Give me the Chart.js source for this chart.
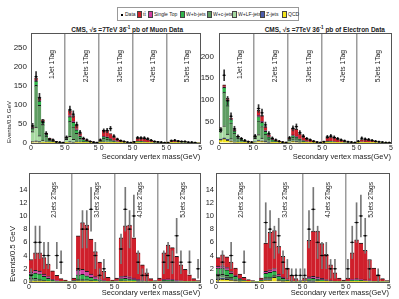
<!DOCTYPE html>
<html>
<head>
<meta charset="utf-8">
<script src="https://cdn.jsdelivr.net/npm/chart.js@4.4.1/dist/chart.umd.min.js"></script>
<style>
  body { margin: 0; width: 399px; height: 299px; background: #fff; position: relative; overflow: hidden;
         font-family: "Liberation Sans", Arial, sans-serif; color: #222; }
  canvas { position: absolute; }
  .titulo { position: absolute; top: 25px; font-size: 6.5px; font-weight: bold; white-space: nowrap; }
  .titulo sup { font-size: 4.5px; }
  #legend { position: absolute; left: 117px; top: 7px; width: 180px; height: 12px; border: 1px solid #999; background: #fff; }
  .item { position: absolute; top: 2px; height: 8px; font-size: 5px; line-height: 8px; white-space: nowrap; }
  .swatch { display: inline-block; width: 5px; height: 7px; vertical-align: middle; margin-right: 1px; border: 0.5px solid #444; box-sizing: border-box; }
</style>
</head>
<body>
<div id="legend"></div>
<div class="titulo" style="right:216px">CMS, √s =7TeV 36<sup>-1</sup> pb of Muon Data</div>
<div class="titulo" style="right:14px">CMS, √s =7TeV 36<sup>-1</sup> pb of Electron Data</div>
<canvas id="tl" width="205" height="143" style="left:0;top:20px"></canvas>
<canvas id="tr" width="200" height="143" style="left:199px;top:20px"></canvas>
<canvas id="bl" width="205" height="139" style="left:0;top:160px"></canvas>
<canvas id="br" width="200" height="139" style="left:199px;top:160px"></canvas>
<script>
// 10 bins of 0.5 GeV in each 0-5 GeV jet/tag region
const binsPerRegion = 10;
const regionWidth = 5;

const topRegions = ['1Jet 1Tag', '2Jets 1Tag', '3Jets 1Tag', '4Jets 1Tag', '5Jets 1Tag'];
const bottomRegions = ['2Jets 2Tags', '3Jets 2Tags', '4Jets 2Tags', '5Jets 2Tags'];

// samples, from the bottom of the stack to the top
const sampleNames = ['QCD', 'Z-jets', 'W+LF-jets', 'W+c-jets', 'W+b-jets', 'Single Top', 't\u0074\u0304'];
const sampleColors = ['#f2e41c', '#4b5cae', '#a6d9a0', '#5e9c62', '#2fb44b', '#d23fa2', '#cf1f2b'];

// tick labels
const topYTicks = [0, 50, 100, 150, 200, 250];
const bottomYTicks = [0, 2, 4, 6, 8, 10, 12, 14, 16];
const topXLabels = ['0', '5 0', '5 0', '5 0', '5 0', '5'];
const bottomXLabels = ['0', '5 0', '5 0', '5 0', '5'];

// ---- muon, 1 tag (5 regions x 10 bins)
const muTopQCD = [3,4,2,1,0.5,0.3,0.2,0.1,0,0, 1,2,1.5,1,0.5,0.3,0.2,0.1,0,0, 0.5,1,1,0.6,0.4,0.2,0.1,0.1,0,0, 0.2,0.3,0.3,0.2,0.1,0.1,0,0,0,0, 0.1,0.1,0.1,0.1,0,0,0,0,0,0];
const muTopZ = [1,2,1.5,1,0.5,0.3,0.2,0.1,0.1,0, 0.5,1.5,1.2,0.8,0.5,0.3,0.2,0.1,0.1,0, 0.3,0.8,0.7,0.5,0.3,0.2,0.1,0.1,0,0, 0.1,0.3,0.3,0.2,0.1,0.1,0,0,0,0, 0.1,0.1,0.1,0.1,0,0,0,0,0,0];
const muTopWLF = [26,36,16,6,3,1.5,0.8,0.5,0.3,0.1, 8,14,7,3,1.5,0.7,0.4,0.3,0.2,0.1, 3,3,1.5,0.8,0.4,0.2,0.1,0.1,0.1,0, 1,0.8,0.4,0.2,0.1,0.1,0,0,0,0, 0.4,0.3,0.2,0.1,0,0,0,0,0,0];
const muTopWc = [8,110,80,41,14,6,3,1.5,0.7,0.4, 3,40,33,21,10,4,2,1.2,0.6,0.3, 1.5,8,7,4.5,2.5,1.2,0.6,0.3,0.2,0.1, 0.5,2,1.8,1.2,0.7,0.4,0.2,0.1,0.1,0, 0.3,0.8,0.7,0.5,0.3,0.2,0.1,0.1,0,0];
const muTopWb = [2,12,12,8,5,2,1.2,0.8,0.4,0.2, 0.8,12,12,9,5,3,1.8,1.1,0.7,0.3, 0.4,4,4.5,3.6,2.4,1.4,0.8,0.4,0.3,0.2, 0.2,1.2,1.4,1.1,0.8,0.5,0.3,0.2,0.1,0.1, 0.1,0.5,0.6,0.5,0.4,0.3,0.2,0.1,0.1,0];
const muTopST = [0.5,2,2,1.5,1,0.6,0.4,0.3,0.2,0.1, 0.2,3,3,2.5,1.5,0.8,0.5,0.4,0.2,0.1, 0.3,1.7,1.8,1.5,1,0.7,0.5,0.3,0.2,0.1, 0.1,0.5,0.6,0.5,0.4,0.3,0.2,0.1,0.1,0, 0.1,0.3,0.3,0.3,0.2,0.2,0.1,0.1,0,0];
const muTopTT = [1.5,6,4.5,3.5,2,1.3,1.2,0.7,0.3,0.2, 0.5,13.5,14.3,10.7,7,3.9,2.9,1.8,1.2,0.7, 1,15.5,16.5,13.5,10,7.1,4.8,2.7,1.7,1.1, 0.9,7.9,9.2,8.6,7.8,5.5,4.3,2.6,1.7,0.9, 0.4,3.9,4.5,3.9,3.6,2.8,2.1,1.2,0.9,0.5];
const muTopData = [45,175,120,55,25,10,8,3,2,1, 15,88,76,48,28,12,8,4,2,1, 8,32,33,38,18,10,6,4,2,1, 3,14,13,13,11,7,4,3,2,1, 1,6,7,5,4,4,2,2,1,null];

// ---- electron, 1 tag
const elTopQCD = [8,10,7,4,2,1,0.6,0.3,0.2,0.1, 2.5,5,4,2.5,1.2,0.6,0.3,0.2,0.1,0.1, 2,4,3,1.5,0.8,0.4,0.2,0.1,0.1,0, 0.4,0.6,0.5,0.3,0.2,0.1,0,0,0,0, 0.3,0.4,0.3,0.2,0.1,0.1,0,0,0,0];
const elTopZ = [1,2,1.5,1,0.5,0.3,0.2,0.1,0,0, 0.5,1.5,1.2,0.8,0.4,0.2,0.1,0.1,0,0, 0.3,0.8,0.7,0.5,0.3,0.2,0.1,0.1,0,0, 0.1,0.3,0.3,0.2,0.1,0.1,0,0,0,0, 0.1,0.1,0.1,0.1,0,0,0,0,0,0];
const elTopWLF = [18,28,12,5,2.5,1.2,0.8,0.4,0.2,0.1, 8,13,6,2.5,1.2,0.6,0.4,0.2,0.1,0.1, 4,3,1.5,0.7,0.4,0.2,0.1,0.1,0,0, 0.8,0.7,0.4,0.2,0.1,0.1,0,0,0,0, 0.6,0.4,0.2,0.1,0.1,0,0,0,0,0];
const elTopWc = [5,78,66,37,18,9,5.3,2.5,1.4,1, 3,32,27,15,7,3.5,2,1,0.6,0.3, 2,6,5,3,1.8,0.9,0.5,0.3,0.2,0.1, 0.4,1.6,1.5,1,0.6,0.3,0.2,0.1,0.1,0, 0.4,0.9,0.8,0.5,0.3,0.2,0.1,0.1,0,0];
const elTopWb = [1.5,11,12,7.5,5,2.6,1.6,0.8,0.6,0.4, 0.8,10,10,6.5,3.8,2.2,1.4,0.8,0.5,0.3, 0.5,3.5,3.8,2.8,2,1.2,0.7,0.4,0.3,0.2, 0.2,1.1,1.3,1,0.7,0.4,0.3,0.2,0.1,0.1, 0.2,0.6,0.7,0.5,0.4,0.3,0.2,0.1,0.1,0];
const elTopST = [0.5,1.5,1.5,1,0.8,0.5,0.4,0.3,0.2,0.1, 0.3,2.5,2.3,1.7,1,0.6,0.4,0.3,0.2,0.1, 0.4,1.5,1.6,1.2,0.9,0.6,0.5,0.3,0.2,0.1, 0.1,0.5,0.6,0.5,0.4,0.3,0.2,0.1,0.1,0, 0.1,0.3,0.4,0.3,0.3,0.2,0.1,0.1,0,0];
const elTopTT = [1,4.5,4,2.5,2.2,1.4,1.1,0.6,0.4,0.3, 0.9,12,13.5,9,5.4,3.3,2.4,1.4,1,0.6, 1.8,15.2,16.4,12.3,9.8,7.5,5.9,3.7,2.2,1.6, 1,8.2,10.4,9.8,7.9,5.7,4.3,2.6,1.7,0.9, 1.3,5.3,6.5,5.3,4.8,3.2,2.6,1.7,0.9,1];
const elTopData = [30,157,98,62,33,15,10,6,3,2, 16,80,70,42,22,11,7,4,2,1, 12,34,38,24,16,10,7,4,2,1, 3,14,16,13,10,7,5,3,2,1, 4,11,9,8,6,4,3,2,1,1];

// ---- muon, 2 tags (4 regions x 10 bins)
const muBotQCD = [0.05,0.05,0.05,0.03,0.02,0,0,0,0,0, 0,0.05,0.05,0.05,0.03,0.02,0,0,0,0, 0,0.02,0.02,0.02,0.01,0,0,0,0,0, 0,0,0,0,0,0,0,0,0,0];
const muBotZ = [0.05,0.05,0.05,0.03,0.02,0,0,0,0,0, 0,0.05,0.05,0.05,0.03,0.02,0,0,0,0, 0,0.03,0.03,0.03,0.02,0.01,0,0,0,0, 0,0.02,0.02,0.02,0.01,0,0,0,0,0];
const muBotWLF = [0.2,0.15,0.1,0.05,0.03,0.02,0,0,0,0, 0.05,0.1,0.1,0.05,0.04,0.02,0.01,0,0,0, 0.03,0.05,0.05,0.03,0.02,0.01,0,0,0,0, 0.02,0.03,0.03,0.02,0.01,0,0,0,0,0];
const muBotWc = [0.3,0.3,0.25,0.15,0.1,0.05,0.03,0,0,0, 0.05,0.25,0.25,0.2,0.15,0.1,0.05,0.03,0,0, 0.05,0.12,0.12,0.1,0.08,0.05,0.03,0.01,0,0, 0.03,0.07,0.07,0.06,0.04,0.03,0.02,0,0,0];
const muBotWb = [0.6,0.8,0.8,0.6,0.4,0.2,0.12,0.05,0.03,0, 0.1,0.65,0.7,0.6,0.45,0.3,0.2,0.1,0.05,0.02, 0.07,0.3,0.32,0.3,0.22,0.15,0.08,0.05,0.02,0, 0.05,0.15,0.17,0.15,0.1,0.07,0.05,0.03,0.01,0];
const muBotST = [0.3,0.4,0.4,0.35,0.25,0.15,0.1,0.05,0.02,0.01, 0.1,0.7,0.75,0.65,0.5,0.35,0.2,0.12,0.05,0.03, 0.05,0.3,0.35,0.3,0.25,0.18,0.1,0.05,0.02,0.01, 0.05,0.15,0.18,0.16,0.12,0.08,0.05,0.03,0.01,0];
const muBotTT = [1.9,2.65,2.75,2.49,1.88,1.28,0.75,0.4,0.25,0.09, 0.3,5.2,7.1,7,5.3,3.79,2.54,1.35,0.6,0.25, 0.4,5.88,7.61,7.82,6.1,4,2.39,1.29,0.46,0.19, 0.45,3.98,5.13,4.79,3.62,2.42,1.78,1.04,0.48,0.2];
const muBotData = [1,6,6,4,4,null,4,3,null,null, null,2,8,8,11,4,1,2,null,null, null,5,11,8,10,3,1,1,null,null, null,3,4,3,7,3,null,3,null,2];

// ---- electron, 2 tags
const elBotQCD = [0.4,0.45,0.4,0.3,0.2,0.1,0.05,0.02,0,0, 0.05,0.3,0.3,0.7,0.2,0.1,0.05,0,0,0, 0.02,0.08,0.08,0.06,0.04,0.02,0,0,0,0, 0,0.03,0.03,0.02,0.01,0,0,0,0,0];
const elBotZ = [0.1,0.1,0.1,0.08,0.05,0.03,0.02,0,0,0, 0.02,0.05,0.05,0.05,0.03,0.02,0,0,0,0, 0.01,0.03,0.03,0.03,0.02,0.01,0,0,0,0, 0,0.02,0.02,0.02,0.01,0,0,0,0,0];
const elBotWLF = [0.3,0.25,0.2,0.12,0.08,0.04,0.02,0.01,0,0, 0.05,0.15,0.15,0.1,0.07,0.04,0.02,0,0,0, 0.03,0.06,0.05,0.04,0.03,0.02,0.01,0,0,0, 0.02,0.03,0.03,0.02,0.01,0.01,0,0,0,0];
const elBotWc = [0.4,0.35,0.3,0.2,0.12,0.06,0.03,0.02,0.01,0, 0.05,0.25,0.25,0.2,0.15,0.08,0.04,0.02,0,0, 0.04,0.1,0.1,0.08,0.06,0.04,0.02,0.01,0,0, 0.03,0.06,0.07,0.06,0.04,0.03,0.02,0,0,0];
const elBotWb = [0.9,0.95,0.85,0.6,0.4,0.2,0.1,0.05,0.03,0.02, 0.1,0.55,0.7,0.6,0.45,0.3,0.15,0.08,0.03,0.01, 0.06,0.25,0.28,0.25,0.2,0.13,0.08,0.04,0.02,0, 0.05,0.14,0.17,0.15,0.11,0.08,0.05,0.03,0.01,0];
const elBotST = [0.3,0.35,0.33,0.28,0.2,0.12,0.07,0.04,0.02,0.01, 0.08,0.3,0.4,0.4,0.3,0.2,0.12,0.06,0.03,0.01, 0.05,0.25,0.3,0.28,0.22,0.15,0.09,0.05,0.02,0.01, 0.05,0.15,0.18,0.16,0.13,0.09,0.05,0.03,0.01,0];
const elBotTT = [1.3,1.65,1.62,1.42,1.05,0.65,0.41,0.21,0.14,0.07, 0.25,4.3,5.65,5.75,4.2,3.16,1.72,0.84,0.44,0.18, 0.39,5.53,6.86,6.96,5.23,3.83,2.4,1.3,0.56,0.29, 0.45,3.97,5.9,5.47,4.49,3.19,1.98,1.04,0.48,0.2];
const elBotData = [1,3,null,4,null,null,3,null,null,null, null,9,8,6,7,3,2,1,1,1, 1,8,11,6,4,4,2,2,null,null, 2,6,9,10,7,2,null,1,null,null];

// leyenda en HTML, en el mismo orden que la figura (tt arriba)
const legendOffsets = [19, 30, 62, 89, 114, 142, 164];
function buildLegend() {
  const box = document.getElementById('legend');
  let html = '<span class="item" style="left:3px"><span style="display:inline-block;width:2px;height:2px;background:#000;vertical-align:middle;margin-right:2px"></span>Data</span>';
  for (let k = sampleNames.length - 1, j = 0; k >= 0; k--, j++) {
    html += `<span class="item" style="left:${legendOffsets[j]}px"><span class="swatch" style="background:${sampleColors[k]}"></span>${sampleNames[k]}</span>`;
  }
  box.innerHTML = html;
}

// texto vertical de cada region (1Jet 1Tag, ...)
const regionLabelPlugin = {
  id: 'regionLabels',
  afterDatasetsDraw(chart, args, opts) {
    const {ctx, chartArea} = chart;
    const xs = chart.scales.xl;
    ctx.save();
    ctx.font = opts.size + 'px "Liberation Sans", Arial, sans-serif';
    ctx.fillStyle = '#222';
    ctx.textAlign = 'right';
    ctx.textBaseline = 'middle';
    opts.labels.forEach((text, i) => {
      const x = xs.getPixelForValue(i * regionWidth + opts.pos);
      ctx.save();
      ctx.translate(x, chartArea.top + opts.top);
      ctx.rotate(-Math.PI / 2);
      ctx.fillText(text, 0, 0);
      ctx.restore();
    });
    ctx.restore();
  }
};

function makePanel(id, cfg) {
  const canvas = document.getElementById(id);
  const nBins = cfg.data.length;
  const nRegions = nBins / binsPerRegion;
  const labels = [];
  for (let i = 0; i < nBins; i++) labels.push(i);
  // ancho de cada bin en pixeles (el area del grafico es fija)
  const binPx = (canvas.width - cfg.pad.left - cfg.pad.right - cfg.yW) / nBins;

  const datasets = [];
  // data points: marker + bin width bar + vertical error (on their own hidden axis)
  datasets.push({
    type: 'line', data: cfg.data, showLine: false, stack: 'pts', order: -3, xAxisID: 'x',
    pointStyle: 'rect', pointRadius: 1.1, pointBackgroundColor: '#000', pointBorderWidth: 0
  });
  datasets.push({
    type: 'line', data: cfg.data, showLine: false, stack: 'pts2', order: -3, xAxisID: 'x',
    pointStyle: 'line', pointRadius: cfg.halfBin, pointBorderColor: '#000', pointBorderWidth: 0.8
  });
  datasets.push({
    type: 'bar', data: cfg.data.map(n => n == null ? null : [n - Math.sqrt(n), n + Math.sqrt(n)]),
    stack: 'err', xAxisID: 'xe', grouped: false, barThickness: 1, backgroundColor: cfg.errColor, order: -2
  });
  cfg.samples.forEach((values, k) => {
    datasets.push({
      type: 'bar', label: sampleNames[k], data: values, stack: 'mc', xAxisID: 'x',
      backgroundColor: sampleColors[k], borderColor: '#1c1c1c',
      borderWidth: {top: cfg.edge, left: 0, right: 0, bottom: 0},
      grouped: false, barThickness: binPx
    });
  });

  const font = {family: '"Liberation Sans", Arial, sans-serif'};

  new Chart(canvas, {
    type: 'bar',
    data: {labels, datasets},
    options: {
      responsive: false,
      animation: false,
      devicePixelRatio: 1,
      layout: {padding: cfg.pad},
      plugins: {
        legend: {display: false},
        tooltip: {enabled: false},
        regionLabels: {labels: cfg.regions, pos: cfg.labelPos, top: cfg.labelTop, size: 6.7}
      },
      scales: {
        x: {type: 'category', display: false, offset: true, ticks: {autoSkip: false}},
        xe: {type: 'category', display: false, offset: true, ticks: {autoSkip: false}},
        xl: {
          type: 'linear', position: 'bottom', min: 0, max: nRegions * regionWidth, offset: false,
          ticks: {
            stepSize: regionWidth, autoSkip: false, maxRotation: 0, padding: cfg.xTickPad,
            font: {...font, size: cfg.xTickSize}, color: '#222',
            callback: v => cfg.xLabels[Math.round(v / regionWidth)]
          },
          grid: {
            offset: false, drawTicks: false, lineWidth: 1.5,
            color: c => (c.tick && c.tick.value > 0 && c.tick.value < nRegions * regionWidth) ? '#9c9c9c' : 'rgba(0,0,0,0)'
          },
          border: {color: '#555', width: 1},
          title: {
            display: true, text: 'Secondary vertex mass(GeV)', align: 'end', color: '#222',
            font: {...font, size: 7.5}, padding: {top: 0, bottom: cfg.xTitlePad}
          },
          afterFit: s => { s.height = cfg.xH; }
        },
        xt: {
          type: 'linear', position: 'top', min: 0, max: 1, offset: false,
          ticks: {display: false}, grid: {display: false, offset: false},
          border: {color: '#555', width: 1},
          afterFit: s => { s.height = 0; }
        },
        y: {
          type: 'linear', position: 'left', stacked: true, min: 0, max: cfg.yMax,
          ticks: {
            stepSize: cfg.yStep, padding: cfg.yTickPad, color: '#222',
            font: {...font, size: cfg.yTickSize},
            callback: v => cfg.yTicks.includes(v) ? String(v) : ''
          },
          grid: {drawOnChartArea: false, drawTicks: false},
          border: {color: '#555', width: 1},
          title: {
            display: cfg.yTitle, text: 'Events/0.5 GeV', align: 'start', color: '#222',
            font: {...font, size: cfg.yTitleSize}, padding: {top: cfg.yTitlePad, bottom: 0}
          },
          afterFit: s => { s.width = cfg.yW; }
        },
        yr: {
          type: 'linear', position: 'right', min: 0, max: 1,
          ticks: {display: false}, grid: {display: false},
          border: {color: '#555', width: 1},
          afterFit: s => { s.width = 0; }
        }
      }
    },
    plugins: [regionLabelPlugin]
  });
}

buildLegend();

const topCommon = {
  regions: topRegions, xLabels: topXLabels, yTicks: topYTicks, yStep: 50,
  labelPos: 3.1, labelTop: 17, halfBin: 1.7, edge: 1, errColor: '#333',
  xH: 20, xTickPad: 1, xTickSize: 7, xTitlePad: 1.2, yTickSize: 8
};
const bottomCommon = {
  regions: bottomRegions, xLabels: bottomXLabels, yTicks: bottomYTicks, yStep: 2,
  labelPos: 2.95, labelTop: 9, halfBin: 2.1, edge: 1, errColor: '#777',
  xH: 17, xTickPad: 0.8, xTickSize: 7, xTitlePad: 1.5, yTickSize: 7.5
};

makePanel('tl', {...topCommon,
  samples: [muTopQCD, muTopZ, muTopWLF, muTopWc, muTopWb, muTopST, muTopTT], data: muTopData,
  yMax: 290, pad: {top: 13, right: 2, left: 0, bottom: 0}, yW: 31, yTickPad: 4,
  yTitle: true, yTitleSize: 6, yTitlePad: 6
});
makePanel('tr', {...topCommon,
  samples: [elTopQCD, elTopZ, elTopWLF, elTopWc, elTopWb, elTopST, elTopTT], data: elTopData,
  yMax: 255, pad: {top: 13, right: 8, left: 0, bottom: 0}, yW: 20, yTickPad: 5,
  yTitle: false, yTitleSize: 6, yTitlePad: 0
});
makePanel('bl', {...bottomCommon,
  samples: [muBotQCD, muBotZ, muBotWLF, muBotWc, muBotWb, muBotST, muBotTT], data: muBotData,
  yMax: 16.5, pad: {top: 13, right: 4, left: 0, bottom: 0}, yW: 29, yTickPad: 1.5,
  yTitle: true, yTitleSize: 8, yTitlePad: 8
});
makePanel('br', {...bottomCommon,
  samples: [elBotQCD, elBotZ, elBotWLF, elBotWc, elBotWb, elBotST, elBotTT], data: elBotData,
  yMax: 16.5, pad: {top: 13, right: 10, left: 0, bottom: 0}, yW: 17, yTickPad: 2,
  yTitle: false, yTitleSize: 8, yTitlePad: 0
});
</script>
</body>
</html>
